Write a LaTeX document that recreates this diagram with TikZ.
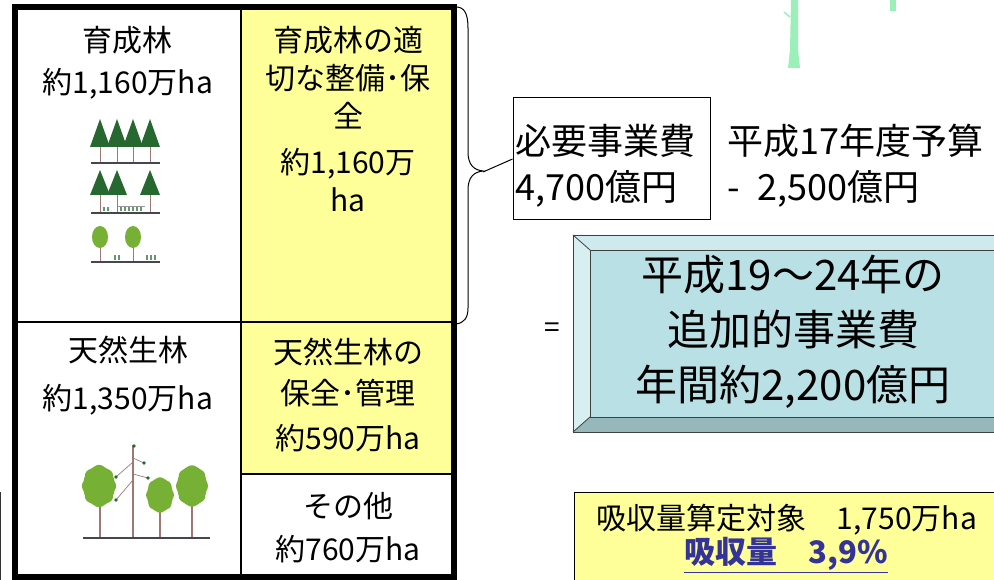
\documentclass[tikz,border=0pt]{standalone}
\usepackage{fontspec}
\setmainfont{Noto Sans CJK JP}
\definecolor{cellyellow}{RGB}{255,255,153}
\definecolor{faceblue}{RGB}{185,224,228}
\definecolor{bevtop}{RGB}{206,234,237}
\definecolor{bevleft}{RGB}{216,239,241}
\definecolor{bevbot}{RGB}{150,184,187}
\definecolor{conifer}{RGB}{38,104,48}
\definecolor{leafy}{RGB}{118,176,52}
\definecolor{trunkc}{RGB}{160,120,115}
\definecolor{groundc}{RGB}{70,70,80}
\definecolor{stemc}{RGB}{155,240,185}
\definecolor{absorb}{RGB}{51,51,153}
% a bumpy round crown: x, y, x radius, y radius
\newcommand\leafcrown[4]{%
  \fill[leafy] (#1,#2) ellipse [x radius=#3pt, y radius=#4pt];
  \foreach \a in {0,45,...,315}
    \fill[leafy] ({#1+0.62*#3*cos(\a)},{#2+0.7*#4*sin(\a)}) circle [radius={0.45*#3pt}];
}
\begin{document}
\begin{tikzpicture}[x=1pt,y=-1pt,
  cell/.style={inner sep=0pt, align=center, font=\fontsize{30}{40}\selectfont},
  bigtxt/.style={inner sep=0pt, align=left, font=\fontsize{36}{46}\selectfont},
  trunk/.style={draw=trunkc, line width=0.8pt},
  ground/.style={draw=groundc, line width=1.2pt},
  bevel/.style={draw=black!75, line width=0.8pt}]
\useasboundingbox (0,0) rectangle (994,580);
\clip (0,0) rectangle (994,580);

% stems at the top right
\fill[stemc] (791,0) -- (798,0) -- (798,50) -- (800,68) -- (788,68) -- (790,50) -- cycle;
\draw[stemc, line width=1.5pt] (790,17) -- (784,12);
\fill[stemc] (890,0) rectangle (896,11);

% thin line at the left edge
\draw[black!80, line width=1pt] (0.5,492) -- (0.5,580);

% ---------- forest table ----------
\fill[cellyellow] (241,7) rectangle (454,474);
\draw[line width=2.5pt] (241,7) -- (241,577);
\draw[line width=2.5pt] (15,322) -- (454,322);
\draw[line width=2.5pt] (241,474) -- (454,474);
\draw[line width=5.5pt] (15,7) rectangle (454,577);

\node[cell, font=\fontsize{30}{42}\selectfont] (planted) at (128,63) {育成林\\約1,160万ha};
\node[cell, font=\fontsize{30}{48}\selectfont] (natural) at (128,376) {天然生林\\約1,350万ha};
\node[cell, font=\fontsize{30}{38}\selectfont] (plantedcare) at (348,119)
  {育成林の適\\切な整備･保\\全\\[8pt]約1,160万\\ha};
\node[cell, font=\fontsize{30}{41}\selectfont] (naturalcare) at (348,395)
  {天然生林の\\保全･管理\\[4pt]約590万ha};
\node[cell, font=\fontsize{30}{43}\selectfont] (other) at (348,528) {その他\\約760万ha};

% planted forest icon: three rows
\foreach \x in {100,117,133,150} {
  \draw[trunk] (\x,140) -- (\x,163);
  \fill[conifer] (\x-10,147) -- (\x,119) -- (\x+10,147) -- cycle;
}
\draw[ground] (91,163) -- (160,163);
\foreach \x in {100,117,150} {
  \draw[trunk] (\x,190) -- (\x,213);
  \fill[conifer] (\x-10,195) -- (\x,170) -- (\x+10,195) -- cycle;
}
\draw[black!40, line width=0.6pt] (118,206) -- (145,206);
\foreach \x in {104,108,121,125,129,133,137,141}
  \draw[conifer!70, line width=1.3pt] (\x,207) -- (\x,211);
\draw[ground] (91,213) -- (160,213);
\foreach \x in {100,133} {
  \draw[trunk] (\x,240) -- (\x,262);
  \fill[leafy] (\x,237) ellipse [x radius=8pt, y radius=11pt];
}
\foreach \x in {115,119,147,151,155}
  \draw[conifer!70, line width=1.3pt] (\x,255) -- (\x,260);
\draw[ground] (91,262) -- (160,262);

% natural forest icon
\draw[trunkc, line width=1.2pt] (100,500) -- (100,538);
\draw[trunkc, line width=1.2pt] (160,505) -- (160,538);
\draw[trunkc, line width=1.2pt] (192,500) -- (192,538);
\leafcrown{99}{486}{16}{20}
\leafcrown{160}{495}{13}{17}
\leafcrown{192}{486}{15}{20}
\draw[trunkc, line width=1.3pt] (133,445) -- (133,538);
\draw[trunkc, line width=0.7pt] (133,462) -- (116,477) (133,480) -- (116,500)
  (133,458) -- (144,463) (133,474) -- (148,478);
\foreach \p in {(116,477),(116,500),(144,463),(148,478),(134,446)}
  \fill[conifer] \p circle [radius=1.8pt];
\draw[groundc, line width=1.6pt] (83,538) -- (210,538);

% brace gathering the yellow cell
\draw[line width=1pt] (456,7) .. controls (464,7) and (468,13) .. (468,28)
  -- (468,152) .. controls (468,165) and (474,170) .. (483,171)
  .. controls (474,172) and (468,177) .. (468,190)
  -- (468,308) .. controls (468,318) and (464,323) .. (456,324);
\coordinate (bracetip) at (483,172);

% ---------- cost calculation ----------
\node[draw, line width=1pt, minimum width=197pt, minimum height=122pt, inner sep=0pt]
  (need) at (611.5,159) {};
\node[bigtxt, anchor=west] (needtxt) at (515,166) {必要事業費\\4,700億円};
\draw[line width=1pt] (bracetip) -- (need.west);
\node[bigtxt, anchor=west] (budget) at (727,166) {平成17年度予算\\-\hspace{18pt}2,500億円};

\node[inner sep=0pt, font=\fontsize{28}{28}\selectfont] (eq) at (552,330) {=};

% bevelled result panel
\fill[bevleft] (573,235) -- (590,250) -- (590,417) -- (573,432) -- cycle;
\fill[bevtop] (573,235) -- (1020,235) -- (1003,250) -- (590,250) -- cycle;
\fill[bevbot] (573,432) -- (590,417) -- (1003,417) -- (1020,432) -- cycle;
\fill[faceblue] (590,250) rectangle (1003,417);
\draw[bevel] (573,235) rectangle (1020,432);
\draw[bevel] (590,250) rectangle (1003,417);
\draw[bevel] (573,235) -- (590,250) (573,432) -- (590,417);
\node[inner sep=0pt, align=center, font=\fontsize{42}{55}\selectfont] (extra) at (793,332)
  {平成19～24年の\\追加的事業費\\年間約2,200億円};

% absorption panel
\node[draw, line width=1pt, fill=cellyellow, minimum width=440pt, minimum height=110pt,
  anchor=north west, inner sep=0pt] (absorbbox) at (574,492) {};
\node[inner sep=0pt, font=\fontsize{30}{30}\selectfont] (target) at (787,520)
  {吸収量算定対象　1,750万ha};
\node[inner sep=0pt, text=absorb, font=\bfseries\fontsize{31}{31}\selectfont] (rate) at (786,555)
  {\underline{吸収量　3,9\%}};
\end{tikzpicture}
\end{document}
